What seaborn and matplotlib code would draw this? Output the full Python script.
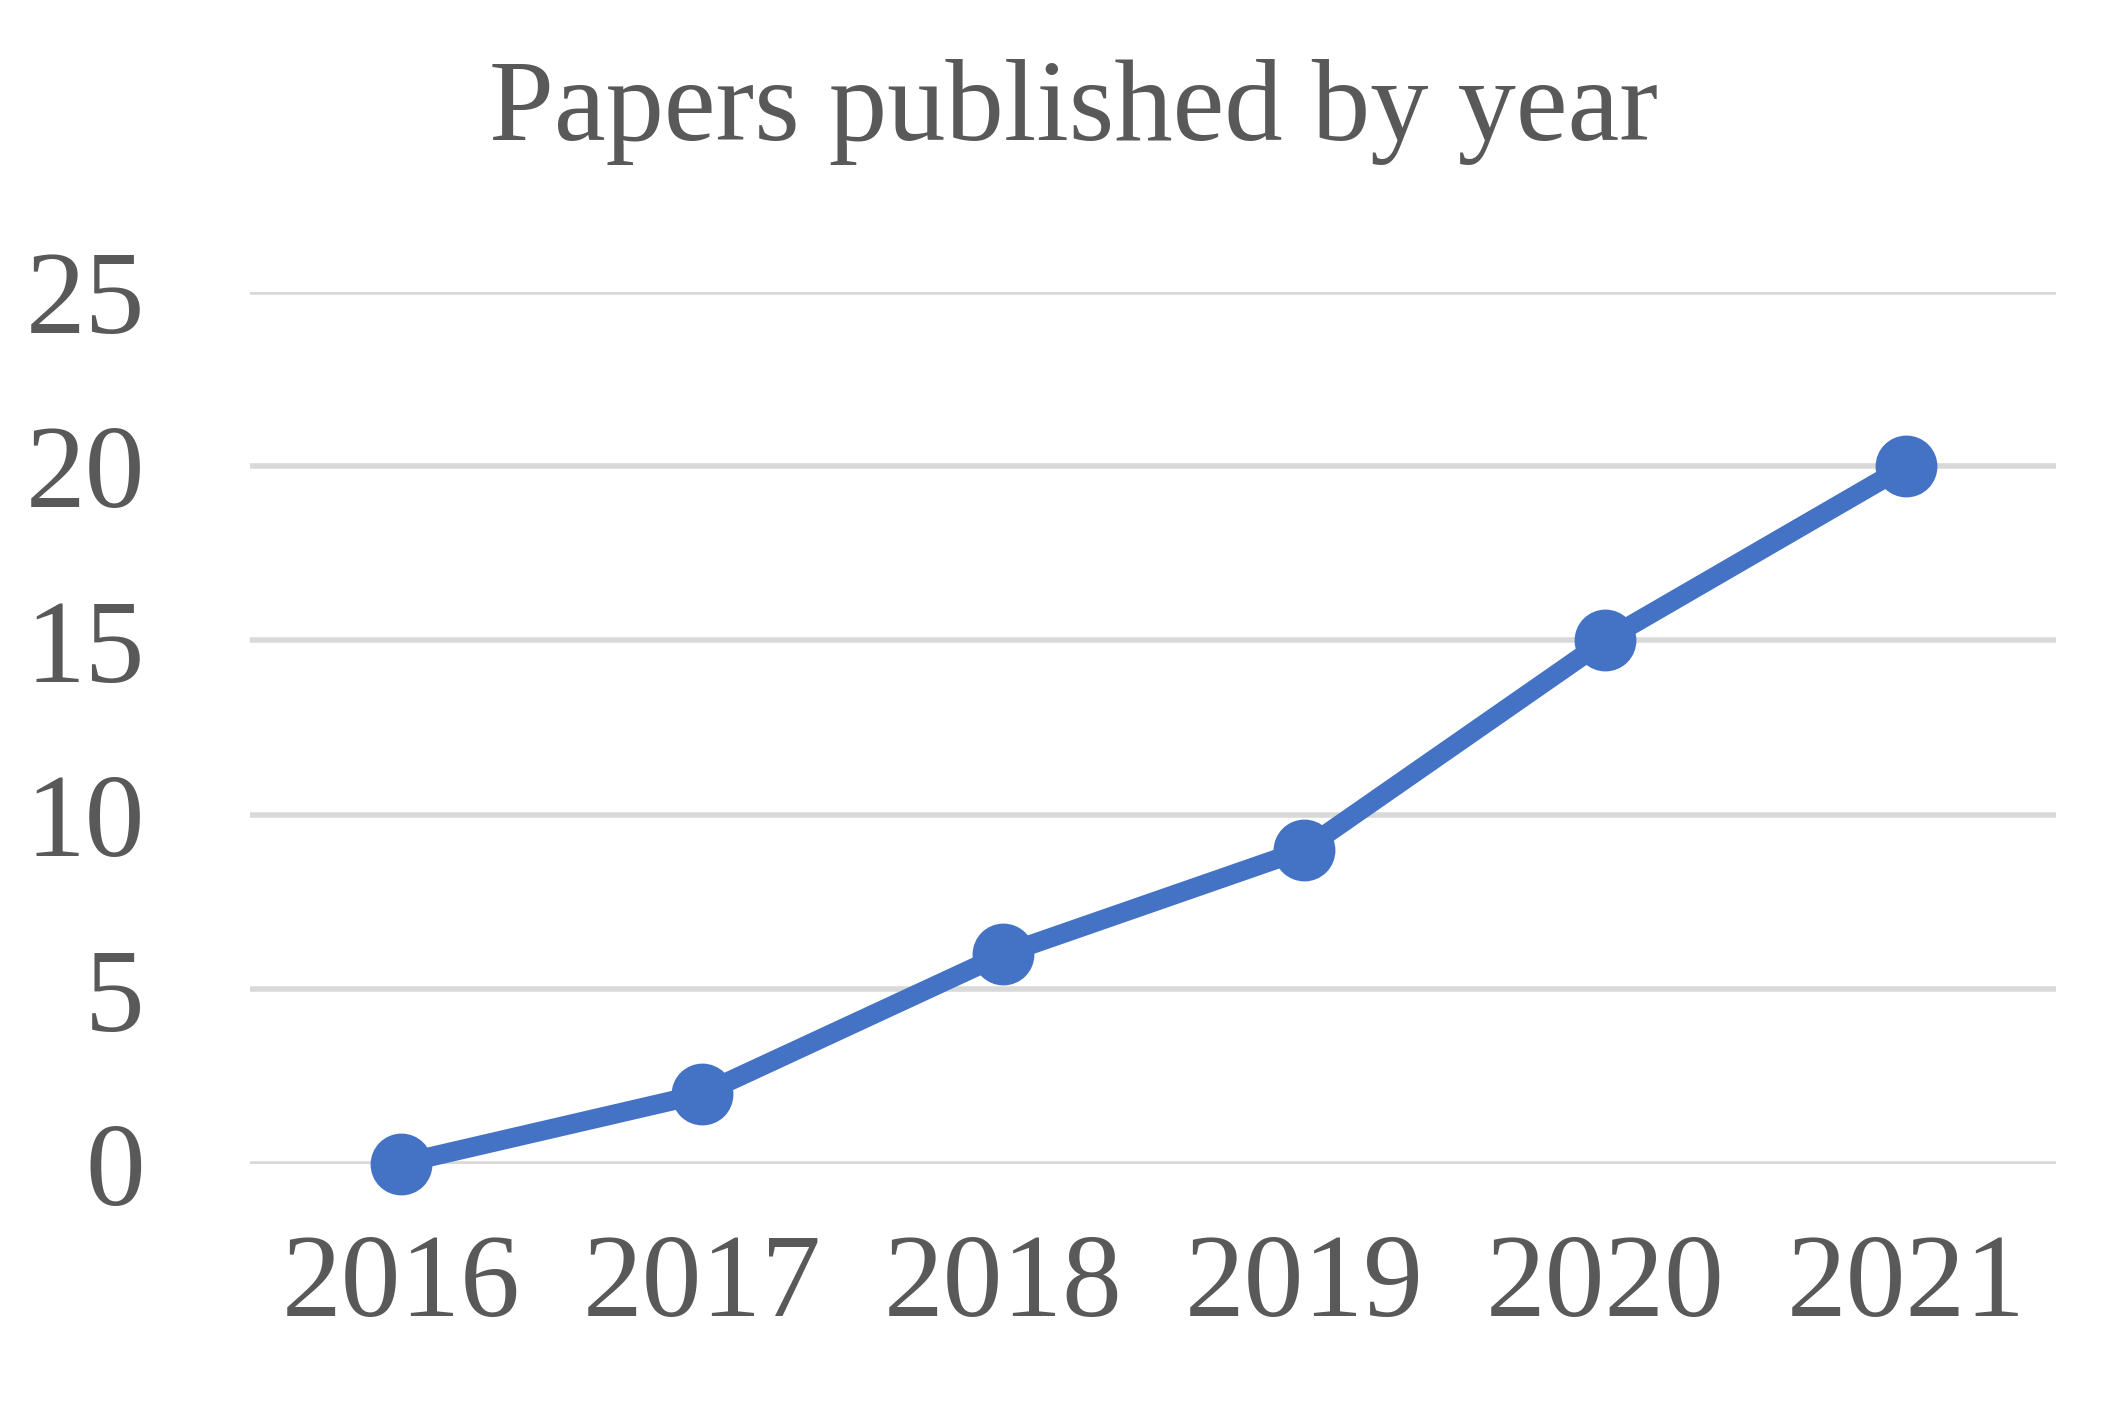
import matplotlib
matplotlib.use("Agg")
import matplotlib.pyplot as plt
import seaborn as sns
import pandas as pd

years = ["2016", "2017", "2018", "2019", "2020", "2021"]
papers = [0, 2, 6, 9, 15, 20]
yticks = [0, 5, 10, 15, 20, 25]

sns.set_style("white")
plt.rcParams['font.family'] = ['Liberation Serif', 'DejaVu Serif']

df = pd.DataFrame({"year": years, "papers": papers})
fig = plt.figure(figsize=(21.22, 14.02), dpi=100)
ax = fig.add_axes([0.118, 0.17, 0.851, 0.622])
sns.pointplot(data=df, x="year", y="papers", ax=ax, color="#4472C4",
              markers="o", markersize=34, linewidth=14)
ax.set_xlim(-0.5, 5.5)
ax.set_ylim(0, 25)
ax.set_yticks(yticks)
ax.yaxis.grid(True, color="#D9D9D9", linewidth=4)
ax.set_axisbelow(True)
for s in ax.spines.values():
    s.set_visible(False)
ax.tick_params(axis="both", length=0, labelsize=86, colors="#595959")
ax.tick_params(axis="x", pad=50)
ax.tick_params(axis="y", pad=76)
ax.set_xlabel("")
ax.set_ylabel("")
for c in ax.collections + ax.lines:
    c.set_clip_on(False)
fig.text(0.506, 0.92, "Papers published by year", ha="center", va="center",
         fontsize=84, color="#595959")
fig.savefig("out.png", dpi=100)
